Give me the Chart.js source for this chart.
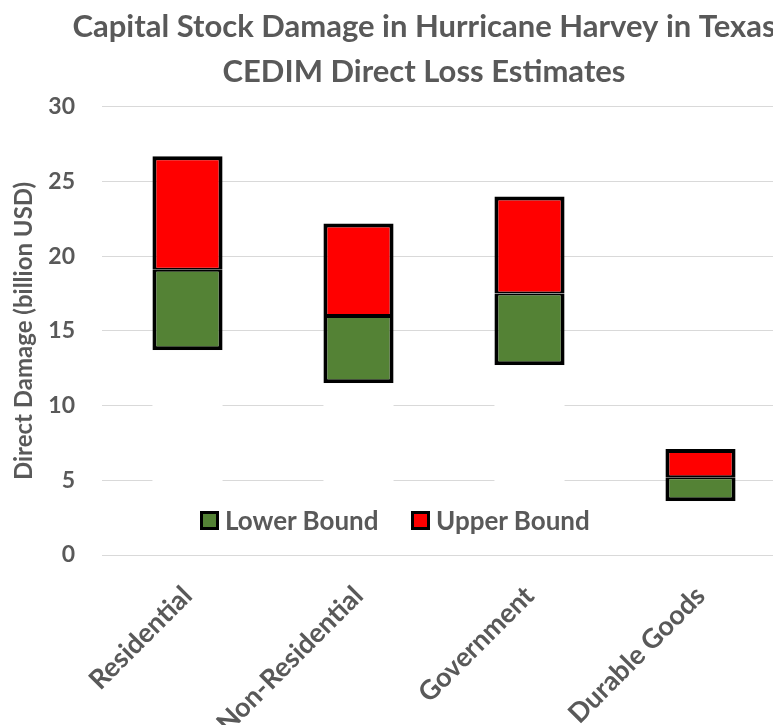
<!DOCTYPE html>
<html>
<head>
<meta charset="utf-8">
<script src="https://cdn.jsdelivr.net/npm/chart.js@4"></script>
<style>
  body { margin: 0; background: #fff; }
  #wrap { position: relative; width: 773px; height: 725px; overflow: hidden; }
  #legend { position: absolute; top: 504px; left: 200px; font: bold 26px Lato, sans-serif; color: #595959; }
  .item { position: absolute; top: 0; white-space: nowrap; display: flex; align-items: center; }
  .box { width: 13px; height: 13px; border: 3px solid #000; margin-right: 6px; }
</style>
</head>
<body>
<div id="wrap">
  <canvas id="chart" width="848" height="725"></canvas>
  <div id="legend">
    <div class="item" style="left:0"><span class="box" style="background:#548235"></span>Lower Bound</div>
    <div class="item" style="left:211px"><span class="box" style="background:#ff0000"></span>Upper Bound</div>
  </div>
</div>
<script>
// Chart data (billion USD)
const categories = ['Residential', 'Non-Residential', 'Government', 'Durable Goods'];
const lowerStart = [13.7, 11.5, 12.7, 3.6];
const lowerEnd = [19.1, 16.0, 17.5, 5.2];
const upperEnd = [26.7, 22.2, 24.0, 7.1];

const textColor = '#595959';
const font = 'Lato';

// white base bar hides the gridlines below each floating bar, like the Excel original
const baseData = lowerStart.map(v => [0, v]);
const lowerData = lowerStart.map((v, i) => [v, lowerEnd[i]]);
const upperData = lowerEnd.map((v, i) => [v, upperEnd[i]]);

new Chart(document.getElementById('chart'), {
    type: 'bar',
    data: {
        labels: categories,
        datasets: [{
            label: 'base',
            data: baseData,
            backgroundColor: '#ffffff',
            borderWidth: 0,
            grouped: false
        }, {
            label: 'Lower Bound',
            data: lowerData,
            backgroundColor: '#548235',
            borderColor: '#000000',
            borderWidth: { left: 4, right: 4, bottom: 4, top: 2 },
            borderSkipped: false,
            grouped: false
        }, {
            label: 'Upper Bound',
            data: upperData,
            backgroundColor: '#ff0000',
            borderColor: '#000000',
            borderWidth: { left: 4, right: 4, top: 4, bottom: 2 },
            borderSkipped: false,
            grouped: false
        }]
    },
    options: {
        responsive: false,
        animation: false,
        devicePixelRatio: 1,
        barPercentage: 0.41,
        categoryPercentage: 1,
        layout: {
            padding: { left: 10, right: 10, top: 0, bottom: 0 }
        },
        plugins: {
            legend: { display: false },
            tooltip: { enabled: false },
            title: {
                display: true,
                text: ['Capital Stock Damage in Hurricane Harvey in Texas', 'CEDIM Direct Loss Estimates'],
                color: textColor,
                font: { family: font, size: 31, weight: 'bold', lineHeight: 1.45 },
                padding: { top: 5, bottom: 12 }
            }
        },
        scales: {
            x: {
                z: 1,
                grid: { display: false },
                border: { display: true, color: '#d9d9d9', width: 1 },
                ticks: {
                    color: textColor,
                    font: { family: font, size: 27, weight: 'bold' },
                    minRotation: 45,
                    maxRotation: 45,
                    padding: 17
                },
                afterFit: scale => { scale.height = 170; }
            },
            y: {
                min: 0,
                max: 30,
                grid: { color: '#d9d9d9', drawTicks: false },
                border: { display: false },
                ticks: {
                    stepSize: 5,
                    color: textColor,
                    font: { family: font, size: 23, weight: 'bold' },
                    padding: 27
                },
                title: {
                    display: true,
                    text: 'Direct Damage (billion USD)',
                    color: textColor,
                    font: { family: font, size: 24, weight: 'bold' },
                    padding: 0
                },
                afterFit: scale => { scale.width = 92; }
            },
            // empty right-hand strip so the title centres over the full chart box
            yRight: {
                position: 'right',
                grid: { display: false },
                border: { display: false },
                ticks: { display: false },
                afterFit: scale => { scale.width = 52; }
            }
        }
    }
});
</script>
</body>
</html>
